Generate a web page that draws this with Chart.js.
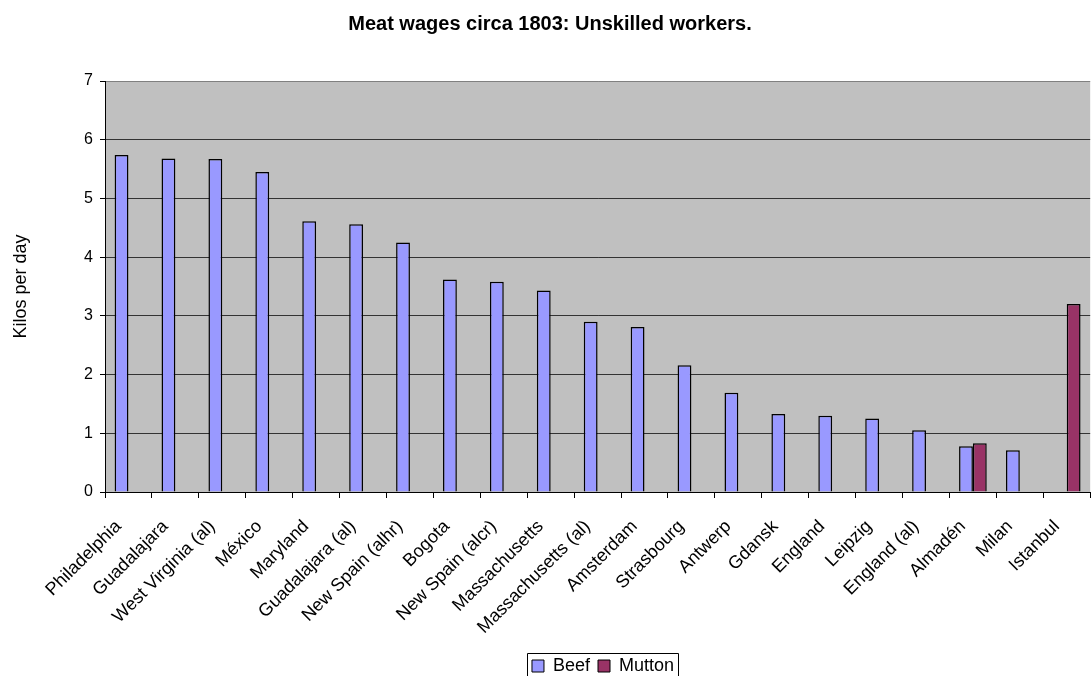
<!DOCTYPE html>
<html>
<head>
<meta charset="utf-8">
<script src="https://cdn.jsdelivr.net/npm/chart.js@4/dist/chart.umd.min.js"></script>
<style>
  html, body { margin: 0; padding: 0; background: #fff; overflow: hidden; }
  #wrap { width: 1100px; height: 676px; }
</style>
</head>
<body>
<div id="wrap"><canvas id="meat-chart"></canvas></div>
<script>
// kilos of meat per day a day's wage buys
const places = [
  "Philadelphia", "Guadalajara", "West Virginia (al)", "México", "Maryland",
  "Guadalajara (al)", "New Spain (alhr)", "Bogota", "New Spain (alcr)", "Massachusetts",
  "Massachusetts (al)", "Amsterdam", "Strasbourg", "Antwerp", "Gdansk",
  "England", "Leipzig", "England (al)", "Almadén", "Milan", "Istanbul"
];
const beef = [
  5.74, 5.68, 5.67, 5.45, 4.61,
  4.56, 4.25, 3.62, 3.58, 3.43,
  2.90, 2.81, 2.16, 1.69, 1.33,
  1.30, 1.25, 1.05, 0.78, 0.71, null
];
const mutton = [
  null, null, null, null, null,
  null, null, null, null, null,
  null, null, null, null, null,
  null, null, null, 0.83, null, 3.20
];
const yTicks = [0, 1, 2, 3, 4, 5, 6, 7];

const FONT = "'Liberation Sans', Arial, sans-serif";

// grey plot background
const plotBackground = {
  id: 'plotBackground',
  beforeDraw(chart) {
    const { ctx, chartArea: a } = chart;
    ctx.save();
    ctx.fillStyle = '#c0c0c0';
    ctx.fillRect(a.left, a.top, a.right - a.left, a.bottom - a.top);
    ctx.restore();
  }
};

// nudge the legend right/down, then box it
const LEGEND_DX = 53, LEGEND_DY = 9;
const legendFrame = {
  id: 'legendFrame',
  afterLayout(chart) {
    const lg = chart.legend;
    lg.left += LEGEND_DX; lg.right += LEGEND_DX;
    lg.top += LEGEND_DY; lg.bottom += LEGEND_DY;
    (lg.legendHitBoxes || []).forEach(h => { h.left += LEGEND_DX; h.top += LEGEND_DY; });
  },
  afterDraw(chart) {
    const hb = chart.legend.legendHitBoxes;
    if (!hb || !hb.length) return;
    const first = hb[0], last = hb[hb.length - 1];
    const ctx = chart.ctx;
    ctx.save();
    ctx.strokeStyle = '#000';
    ctx.lineWidth = 1;
    const x0 = Math.round(first.left - 5) + 0.5;
    const x1 = Math.round(last.left + last.width + 4) + 0.5;
    const y0 = Math.round(first.top - 13) + 0.5;
    ctx.beginPath();
    ctx.moveTo(x0, chart.height + 2);
    ctx.lineTo(x0, y0);
    ctx.lineTo(x1, y0);
    ctx.lineTo(x1, chart.height + 2);
    ctx.stroke();
    ctx.restore();
  }
};

new Chart(document.getElementById('meat-chart'), {
  type: 'bar',
  data: {
    labels: places,
    datasets: [
      {
        label: 'Beef',
        data: beef,
        backgroundColor: '#9999ff',
        borderColor: '#000',
        borderWidth: 1.5
      },
      {
        label: 'Mutton',
        data: mutton,
        backgroundColor: '#993366',
        borderColor: '#000',
        borderWidth: 1.5
      }
    ]
  },
  options: {
    responsive: true,
    maintainAspectRatio: false,
    animation: false,
    categoryPercentage: 0.59,
    barPercentage: 1.0,
    layout: { padding: { left: 0, right: 0, top: 0, bottom: 0 } },
    plugins: {
      title: {
        display: true,
        text: 'Meat wages circa 1803: Unskilled workers.',
        color: '#000',
        font: { family: FONT, size: 20, weight: 'bold' },
        padding: { top: 12, bottom: 45 }
      },
      legend: {
        position: 'bottom',
        labels: {
          color: '#000',
          font: { family: FONT, size: 18 },
          boxWidth: 12,
          boxHeight: 12,
          padding: 8,
          generateLabels(chart) {
            return chart.data.datasets.map((ds, i) => ({
              text: ds.label,
              fillStyle: ds.backgroundColor,
              strokeStyle: '#000',
              lineWidth: 1,
              hidden: false,
              datasetIndex: i
            }));
          }
        }
      },
      tooltip: { enabled: false }
    },
    scales: {
      x: {
        grid: {
          display: true,
          drawOnChartArea: false,
          drawTicks: true,
          tickLength: 6,
          tickColor: '#000',
          offset: true
        },
        border: { display: true, color: '#000', width: 1 },
        ticks: {
          autoSkip: false,
          maxRotation: 45,
          minRotation: 45,
          padding: 18,
          labelOffset: -10,
          color: '#000',
          font: { family: FONT, size: 18 }
        },
        afterFit(scale) { scale.height = 148; }
      },
      y: {
        min: 0,
        max: 7,
        afterBuildTicks(scale) { scale.ticks = yTicks.map(v => ({ value: v })); },
        grid: {
          color: ctx => ctx.tick && ctx.tick.value === 7 ? '#808080' : '#333',
          lineWidth: 1,
          tickLength: 5,
          tickColor: '#000'
        },
        border: { display: true, color: '#000', width: 1 },
        ticks: {
          padding: 7,
          color: '#000',
          font: { family: FONT, size: 16 }
        },
        title: {
          display: true,
          text: 'Kilos per day',
          color: '#000',
          font: { family: FONT, size: 18 },
          padding: { top: 10, bottom: 0 }
        },
        afterFit(scale) { scale.width = 105; }
      }
    }
  },
  plugins: [plotBackground, legendFrame]
});
</script>
</body>
</html>
